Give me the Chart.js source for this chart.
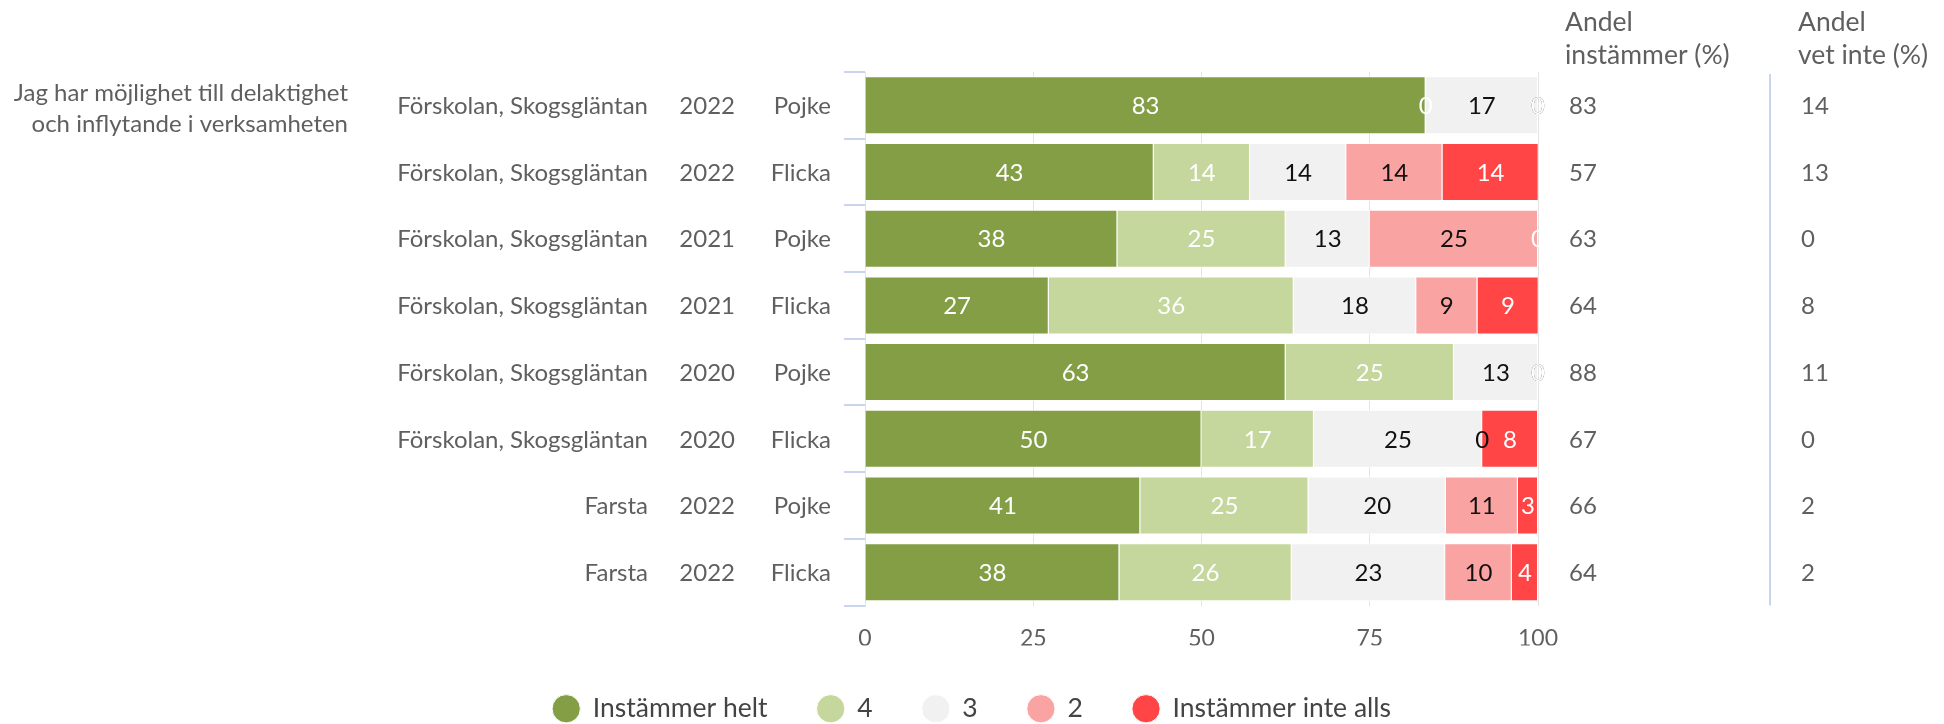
<!DOCTYPE html>
<html>
<head>
<meta charset="utf-8">
<script src="https://cdn.jsdelivr.net/npm/chart.js@4"></script>
<style>
  html, body { margin: 0; padding: 0; background: #ffffff; }
  #wrap { width: 1944px; height: 724px; position: relative; }
</style>
</head>
<body>
<div id="wrap"><canvas id="c"></canvas></div>
<script>
const question = ["Jag har möjlighet till delaktighet", "och inflytande i verksamheten"];
const units = ["Förskolan, Skogsgläntan", "Förskolan, Skogsgläntan", "Förskolan, Skogsgläntan", "Förskolan, Skogsgläntan", "Förskolan, Skogsgläntan", "Förskolan, Skogsgläntan", "Farsta", "Farsta"];
const years = ["2022", "2022", "2021", "2021", "2020", "2020", "2022", "2022"];
const genders = ["Pojke", "Flicka", "Pojke", "Flicka", "Pojke", "Flicka", "Pojke", "Flicka"];

const seriesNames = ["Instämmer helt", "4", "3", "2", "Instämmer inte alls"];
const helt = [83.3, 42.9, 37.5, 27.3, 62.5, 50.0, 40.9, 37.8];
const fyra = [0, 14.3, 25.0, 36.4, 25.0, 16.7, 25.0, 25.6];
const tre  = [16.7, 14.3, 12.5, 18.2, 12.5, 25.0, 20.4, 22.8];
const tva  = [0, 14.3, 25.0, 9.1, 0, 0, 10.7, 9.9];
const inte = [0, 14.3, 0, 9.1, 0, 8.3, 3.0, 3.9];

const andelInstammer = [83, 57, 63, 64, 88, 67, 66, 64];
const andelVetInte = [14, 13, 0, 8, 11, 0, 2, 2];

const xTicks = [0, 25, 50, 75, 100];
const colHeaders = [["Andel", "instämmer (%)"], ["Andel", "vet inte (%)"]];

const colors = ["#839e45", "#c5d79c", "#f1f1f1", "#f9a3a2", "#ff4545"];
const labelColors = ["#ffffff", "#ffffff", "#111111", "#111111", "#ffffff"];
const textGrey = "#5f5f5f";
const FONT = "Lato, 'Open Sans', sans-serif";

Chart.defaults.font.family = FONT;

const categories = units.map((u, i) => u + " " + years[i] + " " + genders[i]);
const seriesValues = [helt, fyra, tre, tva, inte];

const barLabels = {
  id: 'barLabels',
  afterDatasetsDraw(chart) {
    const ctx = chart.ctx;
    ctx.save();
    ctx.font = "24px " + FONT;
    ctx.textAlign = 'center';
    ctx.textBaseline = 'middle';
    chart.data.datasets.forEach((ds, di) => {
      const meta = chart.getDatasetMeta(di);
      meta.data.forEach((el, i) => {
        const p = el.getProps(['x', 'base', 'y'], true);
        const cx = (p.x + p.base) / 2;
        ctx.fillStyle = labelColors[di];
        ctx.fillText(String(Math.round(ds.data[i])), cx, p.y + 1);
      });
    });
    ctx.restore();
  }
};

const sideText = {
  id: 'sideText',
  afterDraw(chart) {
    const ctx = chart.ctx;
    const y = chart.scales.y;
    const area = chart.chartArea;
    ctx.save();
    ctx.fillStyle = textGrey;
    ctx.textBaseline = 'middle';
    ctx.font = "24px " + FONT;
    ctx.textAlign = 'right';
    ctx.fillText(question[0], 348, 93);
    ctx.fillText(question[1], 348, 124);
    categories.forEach((c, i) => {
      const py = y.getPixelForValue(i) + 1;
      ctx.textAlign = 'right';
      ctx.fillText(units[i], 648, py);
      ctx.fillText(years[i], 735, py);
      ctx.fillText(genders[i], 831, py);
      ctx.textAlign = 'left';
      ctx.fillText(String(andelInstammer[i]), 1569, py);
      ctx.fillText(String(andelVetInte[i]), 1801, py);
    });
    ctx.font = "26.5px " + FONT;
    ctx.textBaseline = 'alphabetic';
    ctx.textAlign = 'left';
    ctx.fillText(colHeaders[0][0], 1565, 31);
    ctx.fillText(colHeaders[0][1], 1565, 64);
    ctx.fillText(colHeaders[1][0], 1798, 31);
    ctx.fillText(colHeaders[1][1], 1798, 64);
    ctx.strokeStyle = "#c9d5ec";
    ctx.lineWidth = 2;
    ctx.beginPath();
    ctx.moveTo(1770, area.top + 2);
    ctx.lineTo(1770, area.bottom);
    ctx.stroke();
    ctx.restore();
  }
};

new Chart(document.getElementById('c'), {
  type: 'bar',
  data: {
    labels: categories,
    datasets: seriesValues.map((vals, i) => ({
      label: seriesNames[i],
      data: vals,
      backgroundColor: colors[i],
      borderColor: '#ffffff',
      borderWidth: 1,
      borderSkipped: 'start',
      categoryPercentage: 1.0,
      barPercentage: 0.87
    }))
  },
  options: {
    indexAxis: 'y',
    responsive: true,
    maintainAspectRatio: false,
    animation: false,
    layout: { padding: { top: 72, bottom: -8, left: 0, right: 0 } },
    scales: {
      x: {
        stacked: true,
        min: 0,
        max: 100,
        afterBuildTicks(scale) { scale.ticks = xTicks.map(v => ({ value: v })); },
        afterFit(scale) { scale.height = 40; },
        ticks: { color: textGrey, font: { size: 23 }, padding: 19 },
        grid: { color: '#e4e4e4', lineWidth: 1, drawTicks: false },
        border: { display: false }
      },
      y: {
        stacked: true,
        position: 'left',
        afterFit(scale) { scale.width = 865; },
        ticks: { display: false },
        grid: { drawOnChartArea: false, drawTicks: true, tickLength: 21, tickColor: '#c9d5ec', lineWidth: 2, offset: true },
        border: { display: true, color: '#dde2ec', width: 1 }
      },
      yRight: {
        type: 'category',
        labels: categories,
        position: 'right',
        afterFit(scale) { scale.width = 1944 - 1538; },
        ticks: { display: false },
        grid: { display: false },
        border: { display: false }
      }
    },
    plugins: {
      legend: {
        position: 'bottom',
        labels: {
          usePointStyle: true,
          pointStyle: 'circle',
          boxWidth: 34,
          boxHeight: 20,
          padding: 50,
          color: '#444444',
          font: { size: 26.5 }
        }
      },
      tooltip: { enabled: false }
    }
  },
  plugins: [barLabels, sideText]
});
</script>
</body>
</html>
